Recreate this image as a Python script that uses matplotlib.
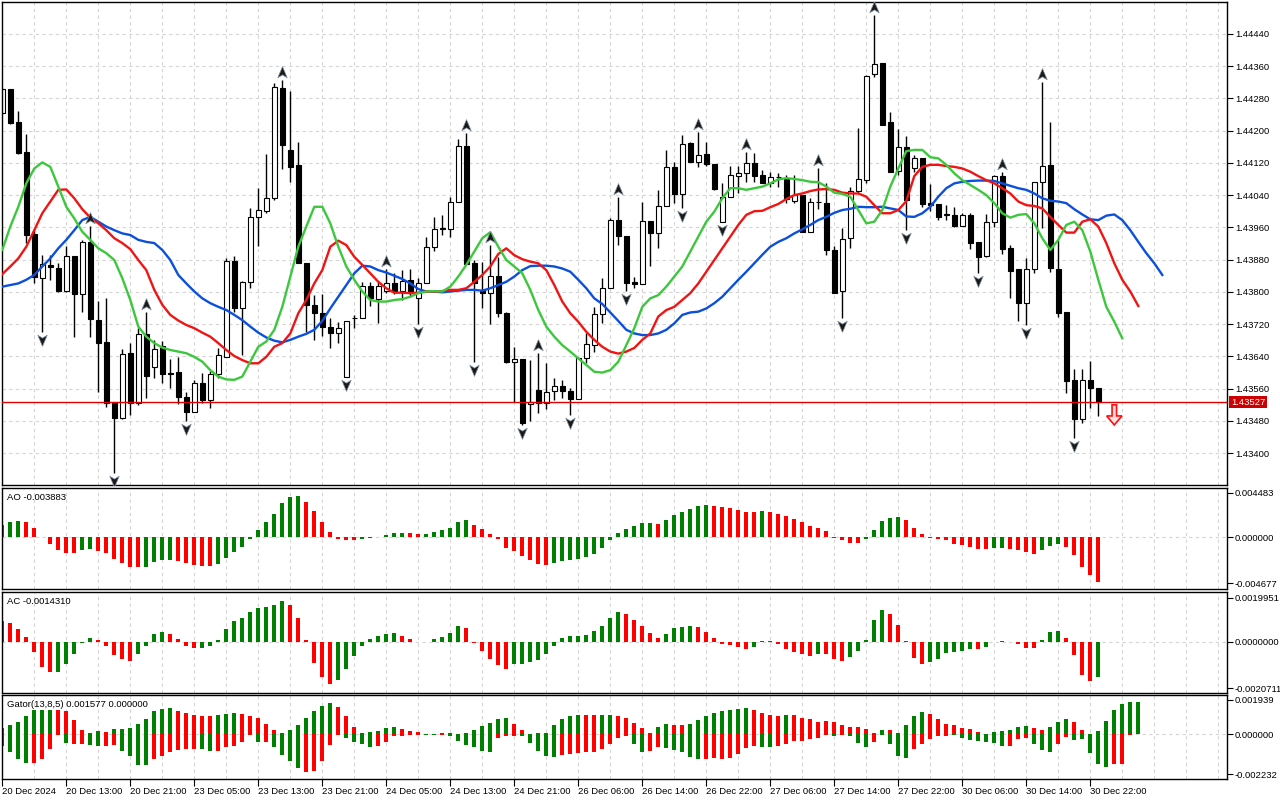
import matplotlib
matplotlib.use("Agg")
import matplotlib.pyplot as plt
import numpy as np
from matplotlib.path import Path
from matplotlib.patches import Polygon
from matplotlib.transforms import offset_copy

plt.rcParams['font.family'] = ['Liberation Sans', 'DejaVu Sans']

# ---- EURCAD-like H1 bars ----
opens = [1.44243, 1.44302, 1.44221, 1.44147, 1.43944, 1.43835, 1.43867, 1.43859, 1.43802, 1.43888,
         1.43796, 1.43923, 1.43730, 1.43675, 1.43526, 1.43487, 1.43648, 1.43524, 1.43695, 1.43613,
         1.43667, 1.43598, 1.43601, 1.43539, 1.43503, 1.43573, 1.43532, 1.43596, 1.43639, 1.43877,
         1.43761, 1.43824, 1.43985, 1.44001, 1.44034, 1.44305, 1.44152, 1.44115, 1.43871, 1.43768,
         1.43747, 1.43714, 1.43697, 1.43588, 1.43735, 1.43735, 1.43815, 1.43782, 1.43801, 1.43823,
         1.43801, 1.43830, 1.43784, 1.43823, 1.43912, 1.43958, 1.43955, 1.44024, 1.44162, 1.43871,
         1.43805, 1.43798, 1.43839, 1.43748, 1.43625, 1.43634, 1.43521, 1.43557, 1.43524, 1.43554,
         1.43567, 1.43554, 1.43534, 1.43635, 1.43668, 1.43744, 1.43809, 1.43978, 1.43939, 1.43825,
         1.43819, 1.43976, 1.43945, 1.44013, 1.44109, 1.44042, 1.44168, 1.44123, 1.44141, 1.44117,
         1.43974, 1.44036, 1.44088, 1.44094, 1.44119, 1.44090, 1.44071, 1.44086, 1.44080, 1.44026,
         1.44040, 1.43948, 1.44022, 1.44020, 1.43904, 1.43801, 1.43933, 1.44050, 1.44077, 1.44340,
         1.44367, 1.44220, 1.44100, 1.44158, 1.44107, 1.44131, 1.44020, 1.44018, 1.43991, 1.43991,
         1.43964, 1.43991, 1.43923, 1.43890, 1.43974, 1.44087, 1.43910, 1.43856, 1.43773, 1.43857,
         1.44072, 1.44115, 1.43858, 1.43749, 1.43582, 1.43484, 1.43582, 1.43563]
highs = [1.44305, 1.44303, 1.44248, 1.44191, 1.43953, 1.43892, 1.43892, 1.43872, 1.43914, 1.43889,
         1.43929, 1.43963, 1.43777, 1.43784, 1.43527, 1.43658, 1.43673, 1.43710, 1.43749, 1.43681,
         1.43679, 1.43633, 1.43638, 1.43551, 1.43582, 1.43598, 1.43605, 1.43660, 1.43883, 1.43889,
         1.43827, 1.44007, 1.44057, 1.44142, 1.44317, 1.44325, 1.44298, 1.44172, 1.43871, 1.43792,
         1.43794, 1.43735, 1.43726, 1.43728, 1.43743, 1.43825, 1.43825, 1.43825, 1.43858, 1.43848,
         1.43854, 1.43856, 1.43834, 1.43935, 1.43985, 1.43991, 1.44036, 1.44178, 1.44195, 1.43879,
         1.43875, 1.43916, 1.43887, 1.43751, 1.43664, 1.43634, 1.43631, 1.43649, 1.43623, 1.43586,
         1.43582, 1.43562, 1.43639, 1.43697, 1.43763, 1.43835, 1.43982, 1.44036, 1.43939, 1.43836,
         1.44024, 1.43976, 1.44053, 1.44152, 1.44121, 1.44189, 1.44172, 1.44196, 1.44171, 1.44117,
         1.44071, 1.44113, 1.44113, 1.44148, 1.44144, 1.44102, 1.44097, 1.44094, 1.44090, 1.44090,
         1.44040, 1.44032, 1.44106, 1.44069, 1.43914, 1.43958, 1.44061, 1.44207, 1.44338, 1.44486,
         1.44368, 1.44245, 1.44203, 1.44187, 1.44139, 1.44131, 1.44068, 1.44018, 1.44015, 1.44011,
         1.43996, 1.43996, 1.43923, 1.43993, 1.44090, 1.44098, 1.43916, 1.43858, 1.43885, 1.44072,
         1.44321, 1.44222, 1.43929, 1.43749, 1.43608, 1.43608, 1.43629, 1.43563]
lows = [1.44241, 1.44216, 1.44142, 1.43921, 1.43822, 1.43701, 1.43830, 1.43800, 1.43800, 1.43688,
        1.43751, 1.43687, 1.43553, 1.43514, 1.43351, 1.43485, 1.43495, 1.43520, 1.43536, 1.43587,
        1.43573, 1.43562, 1.43521, 1.43481, 1.43503, 1.43524, 1.43511, 1.43586, 1.43639, 1.43749,
        1.43644, 1.43810, 1.43914, 1.43995, 1.44028, 1.44104, 1.44073, 1.43871, 1.43701, 1.43681,
        1.43691, 1.43660, 1.43674, 1.43588, 1.43710, 1.43735, 1.43766, 1.43724, 1.43797, 1.43794,
        1.43780, 1.43788, 1.43720, 1.43822, 1.43902, 1.43941, 1.43937, 1.44023, 1.43868, 1.43627,
        1.43759, 1.43720, 1.43739, 1.43623, 1.43528, 1.43470, 1.43481, 1.43499, 1.43509, 1.43532,
        1.43537, 1.43495, 1.43534, 1.43623, 1.43652, 1.43722, 1.43809, 1.43916, 1.43801, 1.43809,
        1.43819, 1.43863, 1.43908, 1.44013, 1.44020, 1.44007, 1.44123, 1.44110, 1.44112, 1.44053,
        1.43974, 1.44036, 1.44046, 1.44073, 1.44073, 1.44070, 1.44061, 1.44061, 1.44020, 1.44020,
        1.43948, 1.43948, 1.44005, 1.43892, 1.43797, 1.43735, 1.43908, 1.44044, 1.44069, 1.44332,
        1.44214, 1.44098, 1.44090, 1.43953, 1.44098, 1.44011, 1.44001, 1.43978, 1.43978, 1.43960,
        1.43964, 1.43906, 1.43848, 1.43887, 1.43960, 1.43894, 1.43784, 1.43729, 1.43718, 1.43846,
        1.43958, 1.43850, 1.43739, 1.43549, 1.43437, 1.43474, 1.43511, 1.43493]
closes = [1.44302, 1.44219, 1.44145, 1.43940, 1.43838, 1.43868, 1.43862, 1.43801, 1.43888, 1.43796,
          1.43923, 1.43732, 1.43674, 1.43524, 1.43487, 1.43646, 1.43524, 1.43695, 1.43592, 1.43658,
          1.43596, 1.43596, 1.43539, 1.43503, 1.43573, 1.43532, 1.43596, 1.43643, 1.43877, 1.43761,
          1.43825, 1.43985, 1.44003, 1.44032, 1.44307, 1.44164, 1.44110, 1.43871, 1.43768, 1.43747,
          1.43714, 1.43697, 1.43710, 1.43728, 1.43735, 1.43815, 1.43784, 1.43815, 1.43821, 1.43801,
          1.43828, 1.43798, 1.43823, 1.43912, 1.43955, 1.43957, 1.44022, 1.44162, 1.43868, 1.43821,
          1.43798, 1.43839, 1.43747, 1.43625, 1.43633, 1.43474, 1.43526, 1.43524, 1.43551, 1.43567,
          1.43554, 1.43534, 1.43635, 1.43670, 1.43744, 1.43810, 1.43978, 1.43939, 1.43823, 1.43820,
          1.43976, 1.43945, 1.44013, 1.44109, 1.44042, 1.44166, 1.44123, 1.44139, 1.44117, 1.44054,
          1.44035, 1.44090, 1.44094, 1.44119, 1.44087, 1.44071, 1.44086, 1.44084, 1.44030, 1.44040,
          1.43948, 1.44022, 1.44022, 1.43904, 1.43798, 1.43930, 1.44050, 1.44079, 1.44336, 1.44364,
          1.44214, 1.44098, 1.44158, 1.44028, 1.44131, 1.44018, 1.44015, 1.43986, 1.43991, 1.43964,
          1.43991, 1.43922, 1.43887, 1.43973, 1.44087, 1.43906, 1.43853, 1.43773, 1.43858, 1.44072,
          1.44112, 1.43860, 1.43748, 1.43580, 1.43484, 1.43582, 1.43561, 1.43527]

# alligator lines (already shifted forward 8 / 5 / 3 bars)
jaw = [1.43813, 1.43817, 1.43821, 1.43830, 1.43842, 1.43863, 1.43883, 1.43908, 1.43929, 1.43953,
       1.43978, 1.43986, 1.43974, 1.43962, 1.43953, 1.43945, 1.43941, 1.43929, 1.43924, 1.43921,
       1.43904, 1.43879, 1.43842, 1.43821, 1.43801, 1.43784, 1.43772, 1.43763, 1.43755, 1.43743,
       1.43730, 1.43714, 1.43699, 1.43687, 1.43679, 1.43675, 1.43681, 1.43689, 1.43696, 1.43706,
       1.43728, 1.43759, 1.43788, 1.43817, 1.43846, 1.43865, 1.43863, 1.43854, 1.43848, 1.43840,
       1.43832, 1.43821, 1.43807, 1.43801, 1.43801, 1.43799, 1.43801, 1.43803, 1.43805, 1.43805,
       1.43803, 1.43809, 1.43817, 1.43825, 1.43838, 1.43854, 1.43864, 1.43865, 1.43865, 1.43863,
       1.43858, 1.43850, 1.43830, 1.43809, 1.43784, 1.43770, 1.43749, 1.43728, 1.43706, 1.43697,
       1.43693, 1.43693, 1.43697, 1.43706, 1.43722, 1.43743, 1.43749, 1.43751, 1.43759, 1.43772,
       1.43788, 1.43809, 1.43830, 1.43850, 1.43871, 1.43892, 1.43912, 1.43924, 1.43933, 1.43945,
       1.43955, 1.43966, 1.43978, 1.43986, 1.43996, 1.44003, 1.44006, 1.44011, 1.44010, 1.44010,
       1.44011, 1.44007, 1.44003, 1.43987, 1.43986, 1.43995, 1.44011, 1.44036, 1.44057, 1.44069,
       1.44073, 1.44075, 1.44076, 1.44076, 1.44075, 1.44069, 1.44063, 1.44057, 1.44053, 1.44044,
       1.44032, 1.44026, 1.44024, 1.44020, 1.44005, 1.43992, 1.43980, 1.43978, 1.43989, 1.43992,
       1.43978, 1.43953, 1.43924, 1.43896, 1.43871, 1.43842]
teeth = [1.43844, 1.43863, 1.43883, 1.43912, 1.43953, 1.43995, 1.44024, 1.44053, 1.44054, 1.44032,
         1.44005, 1.43984, 1.43970, 1.43953, 1.43933, 1.43921, 1.43906, 1.43879, 1.43854, 1.43805,
         1.43768, 1.43743, 1.43729, 1.43718, 1.43710, 1.43699, 1.43689, 1.43673, 1.43656, 1.43641,
         1.43631, 1.43623, 1.43623, 1.43639, 1.43664, 1.43673, 1.43697, 1.43747, 1.43780, 1.43821,
         1.43854, 1.43912, 1.43927, 1.43916, 1.43887, 1.43867, 1.43846, 1.43825, 1.43809, 1.43798,
         1.43798, 1.43797, 1.43798, 1.43801, 1.43801, 1.43802, 1.43805, 1.43805, 1.43809, 1.43825,
         1.43842, 1.43863, 1.43894, 1.43908, 1.43891, 1.43881, 1.43875, 1.43871, 1.43854, 1.43817,
         1.43776, 1.43747, 1.43726, 1.43701, 1.43681, 1.43664, 1.43652, 1.43647, 1.43652, 1.43661,
         1.43681, 1.43697, 1.43739, 1.43755, 1.43763, 1.43780, 1.43797, 1.43821, 1.43850, 1.43879,
         1.43908, 1.43937, 1.43966, 1.43991, 1.44000, 1.44001, 1.44010, 1.44018, 1.44030, 1.44040,
         1.44044, 1.44050, 1.44054, 1.44055, 1.44053, 1.44046, 1.44044, 1.44044, 1.44036, 1.44015,
         1.43995, 1.43995, 1.44003, 1.44025, 1.44087, 1.44110, 1.44115, 1.44115, 1.44112, 1.44110,
         1.44106, 1.44098, 1.44087, 1.44077, 1.44069, 1.44057, 1.44044, 1.44024, 1.44015, 1.44013,
         1.44007, 1.43986, 1.43966, 1.43947, 1.43947, 1.43974, 1.43980, 1.43962, 1.43921, 1.43871,
         1.43830, 1.43801, 1.43765]
lips = [1.43904, 1.43962, 1.44011, 1.44069, 1.44106, 1.44121, 1.44110, 1.44061, 1.44011, 1.43982,
        1.43949, 1.43929, 1.43908, 1.43896, 1.43879, 1.43834, 1.43780, 1.43714, 1.43689, 1.43673,
        1.43662, 1.43656, 1.43652, 1.43648, 1.43639, 1.43627, 1.43606, 1.43590, 1.43583, 1.43582,
        1.43590, 1.43627, 1.43664, 1.43677, 1.43706, 1.43763, 1.43838, 1.43912, 1.43962, 1.44011,
        1.44011, 1.43970, 1.43912, 1.43863, 1.43830, 1.43801, 1.43780, 1.43776, 1.43776, 1.43780,
        1.43782, 1.43788, 1.43797, 1.43801, 1.43802, 1.43801, 1.43813, 1.43838, 1.43867, 1.43900,
        1.43933, 1.43948, 1.43912, 1.43879, 1.43863, 1.43846, 1.43805, 1.43755, 1.43714, 1.43689,
        1.43668, 1.43652, 1.43635, 1.43619, 1.43602, 1.43600, 1.43606, 1.43627, 1.43668, 1.43710,
        1.43763, 1.43784, 1.43792, 1.43813, 1.43838, 1.43863, 1.43900, 1.43937, 1.43974, 1.43999,
        1.44032, 1.44057, 1.44057, 1.44053, 1.44057, 1.44061, 1.44069, 1.44079, 1.44082, 1.44080,
        1.44077, 1.44073, 1.44072, 1.44061, 1.44046, 1.44043, 1.44036, 1.44003, 1.43970, 1.43974,
        1.44003, 1.44061, 1.44106, 1.44149, 1.44152, 1.44152, 1.44134, 1.44131, 1.44115, 1.44094,
        1.44077, 1.44065, 1.44053, 1.44040, 1.44020, 1.43995, 1.43984, 1.43991, 1.43993, 1.43970,
        1.43933, 1.43904, 1.43929, 1.43966, 1.43974, 1.43953, 1.43900, 1.43830, 1.43763, 1.43726,
        1.43685]

fractal_up = [11, 18, 35, 48, 58, 61, 67, 77, 87, 93, 102, 109, 125, 130]
fractal_dn = [5, 14, 23, 43, 52, 59, 65, 71, 78, 85, 90, 105, 113, 122, 128, 134]

# Awesome oscillator
ao = [0.00118, 0.00152, 0.00162, 0.00152, 0.00091, -0.00005, -0.00067, -0.00128, -0.00158, -0.00158,
      -0.00128, -0.00118, -0.00142, -0.00158, -0.00219, -0.00260, -0.00300, -0.00300, -0.00300, -0.00253,
      -0.00233, -0.00233, -0.00243, -0.00260, -0.00283, -0.00293, -0.00293, -0.00270, -0.00209, -0.00148,
      -0.00101, -0.00017, 0.00074, 0.00155, 0.00233, 0.00347, 0.00404, 0.00415, 0.00354, 0.00266,
      0.00155, 0.00054, -0.00017, -0.00034, -0.00034, -0.00024, -0.00013, 0.00001, 0.00020, 0.00040,
      0.00040, 0.00040, 0.00027, 0.00027, 0.00050, 0.00074, 0.00094, 0.00152, 0.00172, 0.00121,
      0.00081, 0.00030, -0.00024, -0.00108, -0.00138, -0.00189, -0.00229, -0.00270, -0.00280, -0.00260,
      -0.00243, -0.00229, -0.00219, -0.00199, -0.00169, -0.00108, -0.00034, 0.00040, 0.00081, 0.00111,
      0.00142, 0.00142, 0.00131, 0.00175, 0.00222, 0.00253, 0.00283, 0.00313, 0.00324, 0.00313,
      0.00303, 0.00293, 0.00273, 0.00256, 0.00256, 0.00266, 0.00253, 0.00233, 0.00212, 0.00182,
      0.00152, 0.00111, 0.00091, 0.00061, -0.00007, -0.00034, -0.00057, -0.00057, -0.00024, 0.00074,
      0.00162, 0.00192, 0.00202, 0.00169, 0.00091, 0.00030, -0.00007, -0.00024, -0.00034, -0.00067,
      -0.00078, -0.00098, -0.00118, -0.00118, -0.00108, -0.00108, -0.00118, -0.00128, -0.00148, -0.00169,
      -0.00128, -0.00088, -0.00067, -0.00098, -0.00179, -0.00300, -0.00388, -0.00450]
ao_col = ("ggg" "rrrrrrr" "gg" "rrrrrr" "gggg" "rrrrr" "ggggggggggg" "rrrrrrr" "gggggg" "rr"
          "gggggg" "rrrrrrrrrr" "ggggggggggggg" "r" "gggggg" "rrrrrr" "g" "rrrrrrrrrrrr" "ggggg"
          "rrrrrrrrrrr" "gg" "rrrr" "ggg" "rrrrr")

# Accelerator oscillator
ac = [0.00095, 0.00086, 0.00057, 0.00023, -0.00044, -0.00113, -0.00134, -0.00134, -0.00098, -0.00053,
      -0.00003, 0.00017, 0.00009, -0.00017, -0.00057, -0.00075, -0.00084, -0.00053, -0.00017, 0.00036,
      0.00045, 0.00036, 0.00014, -0.00017, -0.00026, -0.00026, -0.00017, 0.00009, 0.00059, 0.00095,
      0.00108, 0.00135, 0.00153, 0.00158, 0.00167, 0.00185, 0.00167, 0.00108, 0.00009, -0.00093,
      -0.00156, -0.00188, -0.00170, -0.00120, -0.00062, -0.00017, 0.00014, 0.00027, 0.00036, 0.00041,
      0.00027, 0.00014, 0.00001, -0.00001, 0.00014, 0.00023, 0.00041, 0.00072, 0.00063, -0.00003,
      -0.00039, -0.00075, -0.00102, -0.00120, -0.00098, -0.00098, -0.00089, -0.00080, -0.00053, -0.00017,
      0.00018, 0.00027, 0.00027, 0.00032, 0.00050, 0.00072, 0.00108, 0.00135, 0.00126, 0.00099,
      0.00072, 0.00041, 0.00018, 0.00036, 0.00063, 0.00068, 0.00072, 0.00068, 0.00045, 0.00018,
      -0.00009, -0.00014, -0.00023, -0.00032, -0.00023, 0.00005, 0.00005, -0.00009, -0.00032, -0.00045,
      -0.00053, -0.00062, -0.00053, -0.00053, -0.00075, -0.00084, -0.00066, -0.00039, 0.00009, 0.00099,
      0.00144, 0.00126, 0.00077, 0.00005, -0.00070, -0.00098, -0.00089, -0.00075, -0.00048, -0.00044,
      -0.00039, -0.00030, -0.00030, -0.00021, -0.00001, 0.00005, -0.00001, -0.00009, -0.00026, -0.00026,
      0.00009, 0.00045, 0.00050, 0.00018, -0.00057, -0.00147, -0.00174, -0.00156]
ac_col = ("g" "rrrrrr" "ggggg" "rrrrr" "gggg" "rrrr" "ggggggggggg" "rrrrrr" "gggggggg" "rrrr"
          "gggg" "rrrrrr" "gggggggggggggg" "rrrrr" "gggg" "rrrrrrr" "ggg" "rrrrr" "g" "rrr"
          "ggggg" "rrrrr" "gggggg" "r" "ggg" "rrrr" "ggg" "rrrr" "g")

# Gator oscillator (upper / lower histograms, shifted forward)
gator_up = [0.00034, 0.00052, 0.00069, 0.00103, 0.00136, 0.00136, 0.00136, 0.00136, 0.00129, 0.00080,
            0.00022, 0.00006, 0.00017, 0.00011, 0.00028, 0.00032, 0.00034, 0.00056, 0.00086, 0.00129,
            0.00142, 0.00147, 0.00129, 0.00118, 0.00106, 0.00103, 0.00103, 0.00108, 0.00114, 0.00119,
            0.00114, 0.00103, 0.00091, 0.00056, 0.00022, 0.00006, 0.00022, 0.00052, 0.00091, 0.00131,
            0.00159, 0.00175, 0.00153, 0.00103, 0.00041, 0.00006, 0.00011, 0.00017, 0.00034, 0.00041,
            0.00028, 0.00017, 0.00011, 0.00004, 0.00004, 0.00006, 0.00006, 0.00002, 0.00006, 0.00022,
            0.00047, 0.00063, 0.00086, 0.00091, 0.00058, 0.00022, 0.00002, 0.00005, 0.00005, 0.00052,
            0.00086, 0.00103, 0.00108, 0.00108, 0.00108, 0.00108, 0.00108, 0.00103, 0.00091, 0.00063,
            0.00035, 0.00006, 0.00041, 0.00058, 0.00052, 0.00052, 0.00058, 0.00080, 0.00103, 0.00119,
            0.00131, 0.00136, 0.00142, 0.00147, 0.00136, 0.00119, 0.00108, 0.00103, 0.00108, 0.00108,
            0.00091, 0.00086, 0.00069, 0.00075, 0.00069, 0.00052, 0.00041, 0.00041, 0.00028, 0.00006,
            0.00022, 0.00022, 0.00006, 0.00052, 0.00103, 0.00125, 0.00114, 0.00086, 0.00058, 0.00052,
            0.00035, 0.00028, 0.00011, 0.00002, 0.00011, 0.00019, 0.00022, 0.00041, 0.00047, 0.00034,
            0.00024, 0.00041, 0.00069, 0.00086, 0.00069, 0.00024, 0.00002, 0.00019, 0.00075, 0.00136,
            0.00170, 0.00181, 0.00181]
gator_up_col = ("ggggggg" "rrrrr" "g" "r" "gggggggg" "rrrrr" "ggg" "rrrrrr" "gggggg" "rrrr"
                "gggg" "rrr" "ggggggggggg" "rr" "g" "r" "ggggg" "rr" "gg" "rrrrr" "gg" "rr"
                "gggggggg" "rrrr" "g" "rrrrrrrrrrr" "g" "rr" "ggg" "rrrrrrr" "gggggg" "rr" "ggg"
                "rrr" "gggggg")
gator_dn = [-0.00065, -0.00097, -0.00136, -0.00159, -0.00159, -0.00136, -0.00080, -0.00006, -0.00047, -0.00052,
            -0.00052, -0.00060, -0.00063, -0.00063, -0.00058, -0.00091, -0.00119, -0.00170, -0.00170, -0.00136,
            -0.00119, -0.00097, -0.00086, -0.00080, -0.00080, -0.00080, -0.00091, -0.00091, -0.00069, -0.00063,
            -0.00041, -0.00003, -0.00041, -0.00041, -0.00069, -0.00114, -0.00147, -0.00187, -0.00209, -0.00203,
            -0.00147, -0.00058, -0.00003, -0.00022, -0.00041, -0.00052, -0.00069, -0.00063, -0.00041, -0.00011,
            -0.00011, -0.00006, -0.00002, -0.00004, -0.00002, -0.00006, -0.00008, -0.00035, -0.00058, -0.00069,
            -0.00091, -0.00097, -0.00019, -0.00011, -0.00011, -0.00011, -0.00047, -0.00091, -0.00119, -0.00125,
            -0.00114, -0.00108, -0.00103, -0.00097, -0.00097, -0.00080, -0.00052, -0.00019, -0.00007, -0.00052,
            -0.00097, -0.00091, -0.00069, -0.00075, -0.00086, -0.00097, -0.00125, -0.00136, -0.00136, -0.00131,
            -0.00136, -0.00131, -0.00108, -0.00075, -0.00063, -0.00069, -0.00069, -0.00063, -0.00052, -0.00035,
            -0.00035, -0.00024, -0.00019, -0.00002, -0.00007, -0.00002, -0.00007, -0.00047, -0.00069, -0.00041,
            -0.00002, -0.00052, -0.00119, -0.00131, -0.00080, -0.00052, -0.00024, -0.00011, -0.00007, -0.00006,
            -0.00019, -0.00030, -0.00035, -0.00041, -0.00047, -0.00063, -0.00063, -0.00028, -0.00019, -0.00052,
            -0.00086, -0.00097, -0.00052, -0.00013, -0.00030, -0.00024, -0.00103, -0.00164, -0.00181, -0.00164,
            -0.00164, -0.00004]
gator_dn_col = ("gggg" "rrrr" "g" "rr" "gg" "rr" "gggg" "rrrrrr" "gg" "rrrrr" "g" "r" "gggg"
                "rrrrr" "gggg" "rrrrrr" "gg" "r" "gggggg" "rrr" "ggggg" "rrrrrrrrr" "gg" "rr"
                "ggggg" "rrrrrrr" "gg" "rrrrrrr" "g" "r" "ggg" "r" "gggg" "rrrrr" "ggggggg" "rrr"
                "ggg" "rr" "ggggg" "rrr")

time_labels = ["20 Dec 2024", "20 Dec 13:00", "20 Dec 21:00", "23 Dec 05:00", "23 Dec 13:00",
               "23 Dec 21:00", "24 Dec 05:00", "24 Dec 13:00", "24 Dec 21:00", "26 Dec 06:00",
               "26 Dec 14:00", "26 Dec 22:00", "27 Dec 06:00", "27 Dec 14:00", "27 Dec 22:00",
               "30 Dec 06:00", "30 Dec 14:00", "30 Dec 22:00"]
price_ticks = [1.43400, 1.43480, 1.43560, 1.43640, 1.43720, 1.43800, 1.43880, 1.43960,
               1.44040, 1.44120, 1.44200, 1.44280, 1.44360, 1.44440]
last_price = 1.43527
sell_bar, sell_top, sell_tip = 139, 1.43520, 1.43470

# ---- styling ----
FS = 6.8
GRID = '#d4d4d4'
GREEN, RED = '#008000', '#ff0000'
XMAX = 153.05
n = len(closes)
x = np.arange(n)
o, h, l, c = map(np.array, (opens, highs, lows, closes))
pal = {'g': GREEN, 'r': RED}

fig = plt.figure(figsize=(12.8, 8), dpi=100)
L, W = 2.3 / 1280, 1224.4 / 1280
ax = fig.add_axes([L, 1 - 485 / 800, W, 483.3 / 800])
ax_ao = fig.add_axes([L, 1 - 589.3 / 800, W, 101.6 / 800])
ax_ac = fig.add_axes([L, 1 - 692.7 / 800, W, 100.7 / 800])
ax_g = fig.add_axes([L, 1 - 779.3 / 800, W, 84 / 800])


def style(a, ticks, labels):
    a.set_xlim(0, XMAX)
    a.yaxis.tick_right()
    a.set_yticks(ticks)
    a.set_yticklabels(labels)
    a.tick_params(axis='y', direction='out', length=4, width=0.8, pad=2,
                  labelsize=FS, colors='black')
    a.xaxis.remove_overlapping_locs = False
    a.set_xticks(np.arange(4, XMAX, 4), minor=True)
    a.grid(which='minor', axis='x', color=GRID, ls=(0, (3, 3)), lw=0.8)
    a.tick_params(axis='x', which='both', length=0, labelbottom=False)
    a.set_axisbelow(True)
    for s in a.spines.values():
        s.set_color('black')
        s.set_linewidth(1)


# main price panel
style(ax, price_ticks, [f"{p:.5f}" for p in price_ticks])
ax.set_ylim(1.433213, 1.445194)
ax.grid(which='major', axis='y', color=GRID, ls=(0, (3, 3)), lw=0.8)

ax.vlines(x, l, h, color='black', lw=1, zorder=2)
body = np.maximum(np.abs(c - o), 0.000012)
ax.bar(x, body, bottom=np.minimum(o, c), width=0.62,
       color=np.where(c >= o, 'white', 'black'), edgecolor='black', lw=0.8, zorder=2.5)

ax.plot(np.arange(len(jaw)), jaw, color='#0a50dc', lw=1.7, zorder=3)
ax.plot(np.arange(len(teeth)), teeth, color='#f01414', lw=1.7, zorder=3)
ax.plot(np.arange(len(lips)), lips, color='#3cc83c', lw=1.7, zorder=3)

ax.axhline(last_price, color='#e00000', lw=1, zorder=4)
ax.annotate(f"{last_price:.5f}", xy=(1, last_price), xycoords=('axes fraction', 'data'),
            xytext=(3, 0), textcoords='offset points', va='center', ha='left',
            color='white', fontsize=FS, annotation_clip=False,
            bbox=dict(boxstyle='square,pad=0.18', fc='#cc0000', ec='none'))

up_mark = Path([(0, 1), (0.8, -0.9), (0, -0.4), (-0.8, -0.9), (0, 1)],
               [Path.MOVETO, Path.LINETO, Path.LINETO, Path.LINETO, Path.CLOSEPOLY])
dn_mark = Path([(0, -1), (0.8, 0.9), (0, 0.4), (-0.8, 0.9), (0, -1)],
               [Path.MOVETO, Path.LINETO, Path.LINETO, Path.LINETO, Path.CLOSEPOLY])
up_tr = offset_copy(ax.transData, fig=fig, x=0, y=8, units='dots')
dn_tr = offset_copy(ax.transData, fig=fig, x=0, y=-8, units='dots')
ax.plot(fractal_up, h[fractal_up], ls='none', marker=up_mark, ms=8.5, mfc='#1a1a1a',
        mec='#8090a0', mew=0.5, transform=up_tr, zorder=5)
ax.plot(fractal_dn, l[fractal_dn], ls='none', marker=dn_mark, ms=8.5, mfc='#1a1a1a',
        mec='#8090a0', mew=0.5, transform=dn_tr, zorder=5)

neck = sell_tip + 0.45 * (sell_top - sell_tip)
arrow = Polygon([(sell_bar - 0.28, sell_top), (sell_bar + 0.28, sell_top), (sell_bar + 0.28, neck),
                 (sell_bar + 0.95, neck), (sell_bar, sell_tip), (sell_bar - 0.95, neck),
                 (sell_bar - 0.28, neck)], closed=True, fc='#ffe0e0', ec='#ff1010', lw=1.2, zorder=6)
ax.add_patch(arrow)

# AO panel
style(ax_ao, [0.004483, 0, -0.004677], ["0.004483", "0.000000", "-0.004677"])
ax_ao.set_ylim(-0.005288, 0.004985)
ax_ao.axhline(0, color=GRID, ls=(0, (3, 3)), lw=0.8, zorder=0)
ax_ao.bar(np.arange(len(ao)), ao, width=0.5, color=[pal[k] for k in ao_col], zorder=2)
ax_ao.text(0.004, 0.95, "AO -0.003883", transform=ax_ao.transAxes, va='top', ha='left', fontsize=FS)

# AC panel
style(ax_ac, [0.0019951, 0, -0.0020711], ["0.0019951", "0.0000000", "-0.0020711"])
ax_ac.set_ylim(-0.002282, 0.00225)
ax_ac.axhline(0, color=GRID, ls=(0, (3, 3)), lw=0.8, zorder=0)
ax_ac.bar(np.arange(len(ac)), ac, width=0.5, color=[pal[k] for k in ac_col], zorder=2)
ax_ac.text(0.004, 0.95, "AC -0.0014310", transform=ax_ac.transAxes, va='top', ha='left', fontsize=FS)

# Gator panel
style(ax_g, [0.001939, 0, -0.002232], ["0.001939", "0.000000", "-0.002232"])
ax_g.set_ylim(-0.002517, 0.002181)
ax_g.axhline(0, color=GRID, ls=(0, (3, 3)), lw=0.8, zorder=0)
ax_g.bar(np.arange(len(gator_up)), gator_up, width=0.5, color=[pal[k] for k in gator_up_col], zorder=2)
ax_g.bar(np.arange(len(gator_dn)), gator_dn, width=0.5, color=[pal[k] for k in gator_dn_col], zorder=2)
ax_g.text(0.004, 0.94, "Gator(13,8,5) 0.001577 0.000000", transform=ax_g.transAxes,
          va='top', ha='left', fontsize=FS)

ax_g.set_xticks(np.arange(0, 8 * len(time_labels), 8))
ax_g.set_xticklabels(time_labels)
ax_g.tick_params(axis='x', which='major', length=5, width=0.8, direction='out', pad=0.5,
                 labelbottom=True, labelsize=FS)
for t in ax_g.get_xticklabels():
    t.set_horizontalalignment('left')

fig.savefig("out.png", dpi=100, facecolor='white')
